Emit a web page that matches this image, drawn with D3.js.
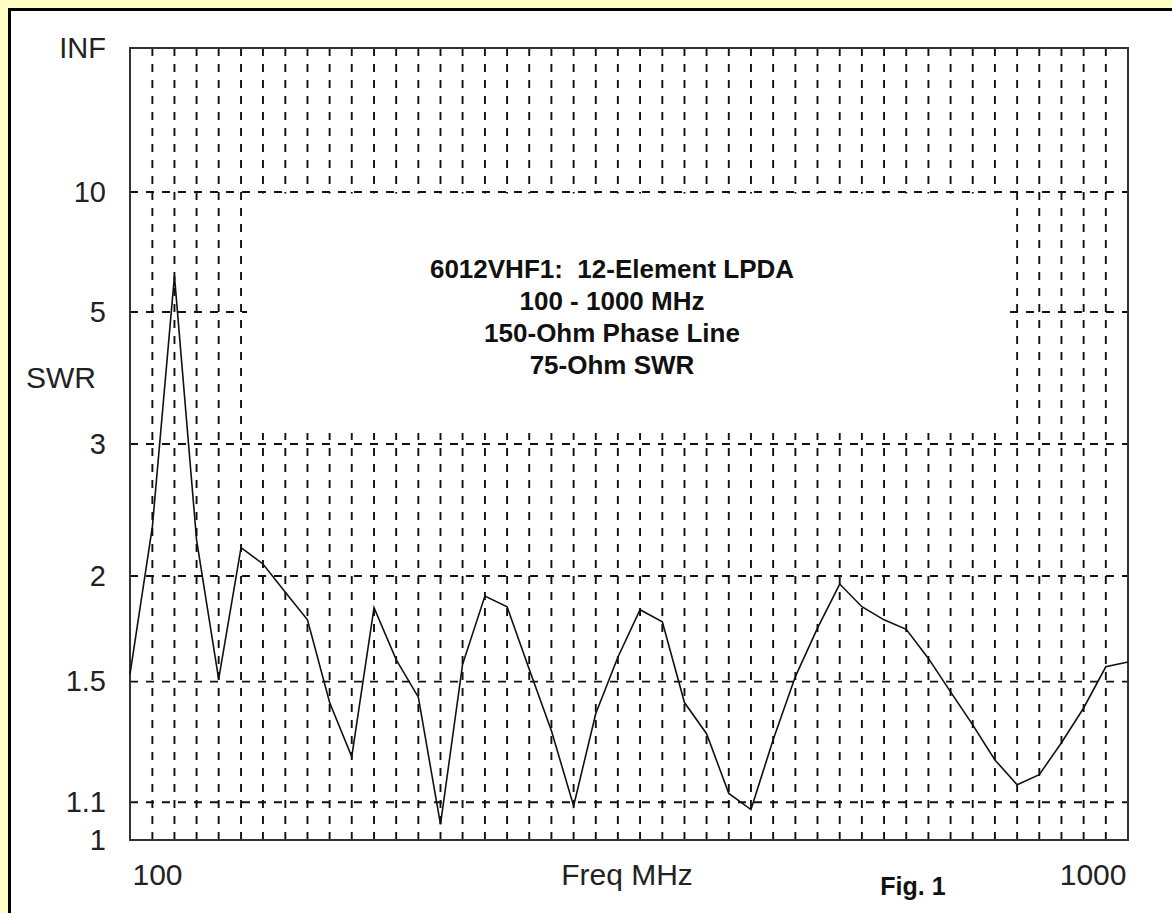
<!DOCTYPE html>
<html>
<head>
<meta charset="utf-8">
<script src="https://cdn.jsdelivr.net/npm/d3@7/dist/d3.min.js"></script>
<style>
  html, body { margin: 0; padding: 0; background: #ffffc4; overflow: hidden; }
  svg { display: block; }
  text { font-family: "Liberation Sans", Arial, sans-serif; white-space: pre; }
</style>
</head>
<body>
<svg id="chart" width="1172" height="913"></svg>
<script>
// Frequency sweep (MHz), log-spaced from 100 to 1000 MHz
const freqMHz = [100, 105.3, 110.8, 116.6, 122.7, 129.2, 135.9, 143.1, 150.6, 158.5,
  166.8, 175.6, 184.8, 194.5, 204.7, 215.4, 226.8, 238.7, 251.2, 264.4,
  278.3, 292.9, 308.2, 324.4, 341.5, 359.4, 378.2, 398.1, 419.0, 441.0,
  464.2, 488.5, 514.2, 541.2, 569.6, 599.5, 631.0, 664.1, 698.9, 735.6,
  774.3, 814.9, 857.7, 902.7, 950.1, 1000];

// 75-ohm SWR at each frequency
const swr = [1.53, 2.31, 5.95, 2.22, 1.51, 2.17, 2.07, 1.91, 1.77, 1.42,
  1.235, 1.83, 1.59, 1.44, 1.04, 1.57, 1.89, 1.835, 1.55, 1.32,
  1.09, 1.38, 1.60, 1.82, 1.76, 1.42, 1.31, 1.125, 1.08, 1.29,
  1.52, 1.73, 1.955, 1.835, 1.77, 1.725, 1.595, 1.46, 1.34, 1.225,
  1.15, 1.18, 1.28, 1.40, 1.56, 1.58];

// SWR axis ticks and their labels
const swrTicks = [1, 1.1, 1.5, 2, 3, 5, 10, Infinity];
const swrTickLabels = ["1", "1.1", "1.5", "2", "3", "5", "10", "INF"];
const freqTicks = [100, 1000];
const freqTickLabels = ["100", "1000"];

const titleLines = ["6012VHF1:  12-Element LPDA", "100 - 1000 MHz",
  "150-Ohm Phase Line", "75-Ohm SWR"];

(function draw() {
  const svg = d3.select("#chart");
  const plotL = 130, plotR = 1128, plotT = 48, plotB = 840;
  const ink = "#222";

  // SWR plotted on a reflection-coefficient scale: rho = (S-1)/(S+1)
  const rho = s => (s === Infinity ? 1 : (s - 1) / (s + 1));
  const yRho = d3.scaleLinear().domain([0, 1]).range([plotB, plotT]);
  const y = s => yRho(rho(s));
  const x = d3.scaleLog().domain([100, 1000]).range([plotL, plotR]);

  // Outer panel
  svg.append("rect").attr("x", 0).attr("y", 0).attr("width", 1172).attr("height", 913)
    .attr("fill", "#ffffc4");
  svg.append("rect").attr("x", 9.5).attr("y", 9.5).attr("width", 1300).attr("height", 1100)
    .attr("fill", "#ffffff").attr("stroke", "#000").attr("stroke-width", 3);

  const grid = svg.append("g").attr("stroke", "#111").attr("stroke-width", 1.9)
    .attr("stroke-dasharray", "8,8").attr("fill", "none");

  // Vertical grid at every frequency step
  grid.selectAll("line.v").data(freqMHz.slice(1, -1)).join("line")
    .attr("class", "v")
    .attr("x1", d => x(d)).attr("x2", d => x(d))
    .attr("y1", plotT).attr("y2", plotB);

  // Horizontal grid at SWR ticks
  grid.selectAll("line.h").data(swrTicks.slice(1, -1)).join("line")
    .attr("class", "h")
    .attr("x1", plotL).attr("x2", plotR)
    .attr("y1", d => y(d)).attr("y2", d => y(d));

  // Blank panel behind the title block
  svg.append("rect")
    .attr("x", 247).attr("y", y(10) + 1.5)
    .attr("width", 1008 - 247).attr("height", 433 - y(10) - 1.5)
    .attr("fill", "#ffffff");

  // Plot frame
  svg.append("rect").attr("x", plotL).attr("y", plotT)
    .attr("width", plotR - plotL).attr("height", plotB - plotT)
    .attr("fill", "none").attr("stroke", "#333").attr("stroke-width", 2);

  // SWR curve
  const line = d3.line().x(d => x(d[0])).y(d => y(d[1]));
  svg.append("path")
    .datum(freqMHz.map((f, i) => [f, swr[i]]))
    .attr("d", line)
    .attr("fill", "none").attr("stroke", "#111").attr("stroke-width", 1.6)
    .attr("stroke-linejoin", "miter");

  // Y axis labels
  const yAxis = d3.axisLeft(yRho)
    .tickValues(swrTicks.map(rho))
    .tickFormat((d, i) => swrTickLabels[i])
    .tickSize(0).tickPadding(0);
  const yg = svg.append("g").attr("transform", "translate(106,0)").call(yAxis);
  yg.select(".domain").remove();
  yg.selectAll("text").attr("font-size", 29).attr("fill", ink)
    .attr("font-family", "'Liberation Sans', Arial, sans-serif");

  // X axis labels
  const xAxis = d3.axisBottom(x).tickValues(freqTicks)
    .tickFormat((d, i) => freqTickLabels[i]).tickSize(0).tickPadding(0);
  const xg = svg.append("g").attr("transform", `translate(0,${plotB})`).call(xAxis);
  xg.select(".domain").remove();
  xg.selectAll("text")
    .attr("font-size", 30).attr("fill", ink)
    .attr("font-family", "'Liberation Sans', Arial, sans-serif")
    .attr("dy", null).attr("y", 45)
    .attr("text-anchor", (d, i) => (i === 0 ? "start" : "end"))
    .attr("dx", (d, i) => (i === 0 ? 2 : -2));

  // Axis titles
  svg.append("text").attr("x", 26).attr("y", 388).attr("font-size", 30)
    .attr("fill", ink).text("SWR");
  svg.append("text").attr("x", 627).attr("y", 885).attr("font-size", 30)
    .attr("text-anchor", "middle").attr("fill", ink).text("Freq MHz");
  svg.append("text").attr("x", 913).attr("y", 895).attr("font-size", 25)
    .attr("font-weight", "bold").attr("text-anchor", "middle").attr("fill", "#111").text("Fig. 1");

  // Title block
  svg.append("g").selectAll("text").data(titleLines).join("text")
    .attr("x", 612).attr("y", (d, i) => 278 + i * 32)
    .attr("text-anchor", "middle").attr("font-size", 26).attr("font-weight", "bold")
    .attr("fill", "#111").text(d => d);
})();
</script>
</body>
</html>
